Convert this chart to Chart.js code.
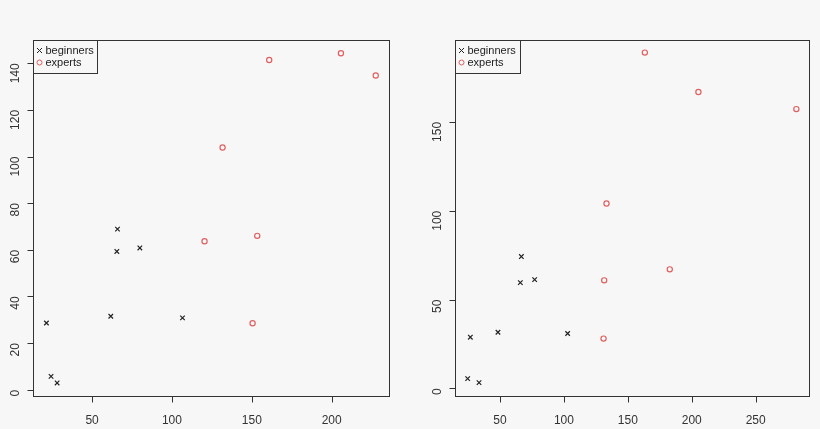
<!DOCTYPE html>
<html><head><meta charset="utf-8">
<script src="https://cdn.jsdelivr.net/npm/chart.js@4"></script>
<style>
html,body{margin:0;padding:0;background:#f7f7f7;}
#w{position:relative;width:820px;height:429px;}
canvas{position:absolute;top:0;}
</style></head><body>
<div id="w"><canvas id="c1" width="410" height="429" style="left:0;width:410px;height:429px"></canvas><canvas id="c2" width="410" height="429" style="left:410px;width:410px;height:429px"></canvas></div>
<script>
const seriesLabels = ['beginners','experts'];
const leftBeginnersX = [21.4,24.3,28.1,61.7,65.5,65.9,79.9,106.6];
const leftBeginnersY = [28.6,5.7,2.9,31.5,59.3,68.9,60.8,30.8];
const leftExpertsX = [120.4,131.7,150.5,153.4,160.9,205.8,227.6];
const leftExpertsY = [63.7,103.9,28.5,66,141.4,144.3,134.8];
const rightBeginnersX = [24.7,26.8,33.6,48.4,65.9,66.7,77.1,102.9];
const rightBeginnersY = [5.5,28.8,3.2,31.6,59.5,74.2,61.2,30.9];
const rightExpertsX = [131,131.5,133.3,163.3,182.8,205.2,281.8];
const rightExpertsY = [28,60.8,104.1,189,67,166.8,157.2];
const leftXTicks = [50,100,150,200];
const leftYTicks = [0,20,40,60,80,100,120,140];
const rightXTicks = [50,100,150,200,250];
const rightYTicks = [0,50,100,150];

const pts=(xs,ys)=>xs.map((x,i)=>({x,y:ys[i]}));
const boxPlugin={id:'box',beforeDraw(c){const g=c.ctx;g.save();g.fillStyle='#f7f7f7';g.fillRect(0,0,c.width,c.height);g.restore();},
afterDraw(c){const a=c.chartArea,g=c.ctx;g.save();g.strokeStyle='#333';g.lineWidth=1;
const L=Math.round(a.left)+0.5,T=Math.round(a.top)+0.5,R=Math.round(a.right)+0.5,B=Math.round(a.bottom)+0.5;
g.strokeRect(L,T,R-L,B-T);
g.beginPath();
c.scales.x.ticks.forEach(t=>{const p=Math.round(c.scales.x.getPixelForValue(t.value))+0.5;g.moveTo(p,B);g.lineTo(p,B+6);});
c.scales.y.ticks.forEach(t=>{const p=Math.round(c.scales.y.getPixelForValue(t.value))+0.5;g.moveTo(L,p);g.lineTo(L-6,p);});
g.stroke();
const lw=c.canvas.id==='c1'?64:65,lh=33;
g.strokeRect(L,T,lw,lh);
g.font='11px "Liberation Sans", Arial, sans-serif';g.fillStyle='#222';g.textBaseline='middle';
g.fillText(seriesLabels[0],L+12,T+10);g.fillText(seriesLabels[1],L+12,T+22);
g.strokeStyle='#222';g.beginPath();const cx=L+6,cy=T+10;g.moveTo(cx-2.5,cy-2.5);g.lineTo(cx+2.5,cy+2.5);g.moveTo(cx+2.5,cy-2.5);g.lineTo(cx-2.5,cy+2.5);g.stroke();
g.strokeStyle='#e06060';g.beginPath();g.arc(L+6,T+22,2.5,0,Math.PI*2);g.stroke();
g.restore();}};
function make(id,b,e,xr,yr,xt,yt,yw,padR){
 const tickFont={family:'"Liberation Sans", Arial, sans-serif',size:12};
 new Chart(document.getElementById(id),{type:'scatter',
 data:{datasets:[
  {label:seriesLabels[0],data:b,pointStyle:'crossRot',radius:3.2,borderColor:'#222',borderWidth:1.2,backgroundColor:'#222'},
  {label:seriesLabels[1],data:e,pointStyle:'circle',radius:2.6,borderColor:'#e06060',borderWidth:1.2,backgroundColor:'rgba(0,0,0,0)'}]},
 options:{responsive:false,animation:false,events:[],
  layout:{padding:{top:40,right:padR,left:0,bottom:0}},
  plugins:{legend:{display:false},tooltip:{enabled:false}},
  scales:{
   x:{type:'linear',min:xr[0],max:xr[1],afterFit(s){s.height=33;},afterBuildTicks(s){s.ticks=xt.map(v=>({value:v}));},
      border:{display:false},grid:{display:false},
      ticks:{color:'#333',font:tickFont,padding:9,maxRotation:0}},
   y:{type:'linear',min:yr[0],max:yr[1],afterFit(s){s.width=yw;},afterBuildTicks(s){s.ticks=yt.map(v=>({value:v}));},
      border:{display:false},grid:{display:false},
      ticks:{color:'#333',font:tickFont,padding:9,minRotation:90,maxRotation:90}}
  }},plugins:[boxPlugin]});
}
make('c1',pts(leftBeginnersX,leftBeginnersY),pts(leftExpertsX,leftExpertsY),[13,235.9],[-2.7,150],leftXTicks,leftYTicks,33,21);
make('c2',pts(rightBeginnersX,rightBeginnersY),pts(rightExpertsX,rightExpertsY),[14.8,291.7],[-4.3,196.1],rightXTicks,rightYTicks,45,11);
</script></body></html>
